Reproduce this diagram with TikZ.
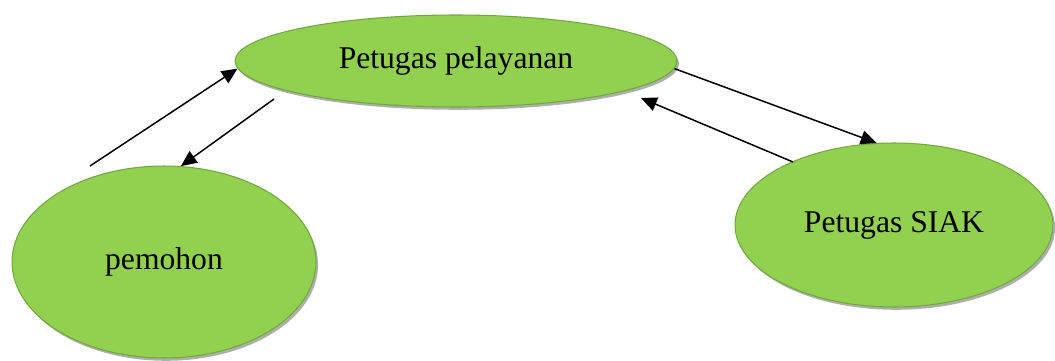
\documentclass[tikz,border=0pt]{standalone}
\usepackage{fontspec}
\setmainfont{Liberation Serif}
\usetikzlibrary{arrows.meta,shapes.geometric,shadows}
\definecolor{leaf}{HTML}{92D050}
\definecolor{leafline}{RGB}{113,168,62}
\begin{document}
\begin{tikzpicture}[x=0.02cm,y=-0.02cm,
    actor/.style={ellipse,draw=leafline,line width=0.6pt,fill=leaf,inner sep=0pt,
        drop shadow={shadow xshift=1.2pt,shadow yshift=-1.6pt,fill=black!45,opacity=0.7},
        font=\fontsize{18}{22}\selectfont},
    flow/.style={line width=0.85pt,-{Triangle[length=9pt,width=8pt]}}]
            \useasboundingbox (0,0) rectangle (1055,361);
            % Actors
            \node[actor,minimum width=8.84cm,minimum height=1.84cm] (pel) at (456,61) {Petugas pelayanan};
            \node[actor,minimum width=6.08cm,minimum height=3.84cm] (pem) at (164,262) {pemohon};
            \node[actor,minimum width=6.36cm,minimum height=3.28cm] (siak) at (894,225) {Petugas SIAK};
            % Free ends of the arrows
            \coordinate (pemout) at (90,166);
            \coordinate (pelout) at (274,99);
            \coordinate (siakout) at (793,162);
            \coordinate (pelin) at (641,98);
            % Flows between pemohon and pelayanan
            \draw[flow] (pemout) -- (pel.182);
            \draw[flow] (pelout) -- (pem.80);
            % Flows between pelayanan and SIAK
            \draw[flow] (pel.-2) -- (siak.102);
            \draw[flow] (siakout) -- (pelin);
        \end{tikzpicture}
\end{document}
